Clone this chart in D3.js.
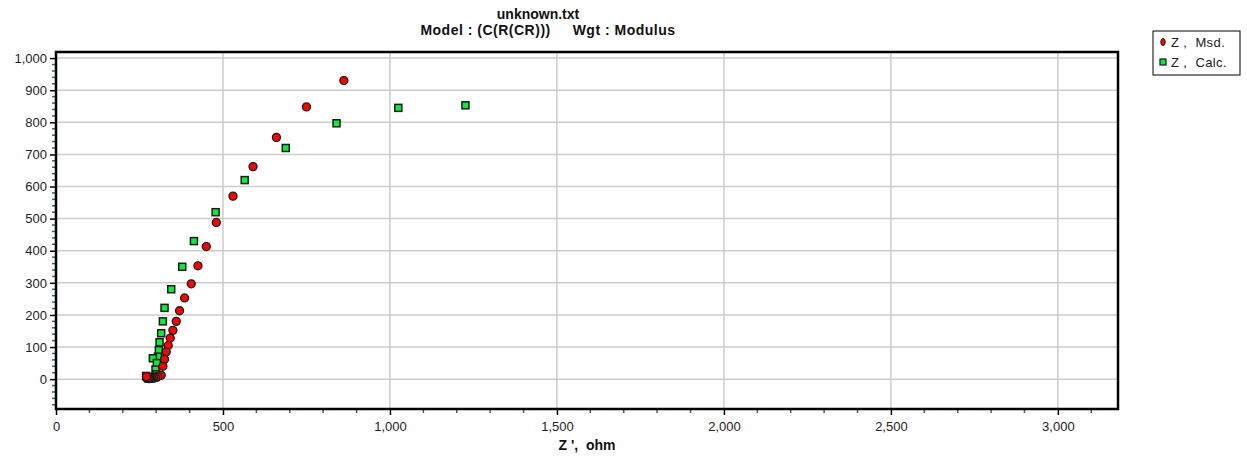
<!DOCTYPE html>
<html>
<head>
<meta charset="utf-8">
<script src="https://cdn.jsdelivr.net/npm/d3@7"></script>
<style>
    body { margin: 0; background: #fff; }
    text { font-family: "Liberation Sans", Arial, sans-serif; }
    .grid line { stroke: #cccccc; stroke-width: 1.5; }
    .tick-label { font-size: 13px; fill: #222; }
    .title { font-size: 14px; font-weight: bold; fill: #111; }
</style>
</head>
<body>
<svg id="nyquist" width="1247" height="462"></svg>
<script>
// Z', Z'' measured (ohm)
const msdX = [862, 750, 660, 590, 530, 480, 450, 425, 405, 385, 370, 360, 350, 342, 336, 330, 325, 320, 315, 305, 298, 292, 287, 283, 280, 278, 276, 273, 271];
const msdY = [930, 848, 753, 662, 570, 488, 413, 353, 297, 253, 213, 180, 152, 128, 105, 85, 62, 40, 12, 8, 5, 4, 3, 3, 2, 2, 3, 5, 8];
// Z', Z'' calculated (ohm)
const calcX = [1226, 1025, 840, 688, 565, 478, 413, 378, 345, 325, 320, 315, 310, 308, 305, 290, 302, 298, 300, 298, 295, 290, 285, 281, 278, 276, 275, 272, 270];
const calcY = [853, 845, 797, 720, 620, 520, 430, 350, 280, 222, 180, 143, 115, 90, 70, 65, 50, 30, 15, 8, 5, 4, 3, 2, 2, 3, 5, 7, 10];

const xTicks = [0, 500, 1000, 1500, 2000, 2500, 3000];
const yTicks = [0, 100, 200, 300, 400, 500, 600, 700, 800, 900, 1000];
const legendLabels = ["Z ,  Msd.", "Z ,  Calc."];
const titleLines = ["unknown.txt", "Model : (C(R(CR)))     Wgt : Modulus"];

const nbsp = (s)=>s.replace(/ /g, "\u00a0");

const drawChart = ()=>{
    let svg = d3.select("#nyquist");

    let margin = {
        top: 52,
        bottom: 53,
        left: 56,
        right: 129
    };

    let width = svg.attr("width") - margin.left - margin.right;
    let height = svg.attr("height") - margin.top - margin.bottom;

    let g = svg.append("g").attr("transform", "translate(" + margin.left + "," + margin.top + ")");

    let xScale = d3.scaleLinear().range([0, width]).domain([0, 3180]);
    let yScale = d3.scaleLinear().range([height, 0]).domain([-93, 1019]);

    // grid
    g.append("g").attr("class", "grid")
    .selectAll("line").data(yTicks).enter().append("line")
    .attr("x1", 0).attr("x2", width)
    .attr("y1", d=>yScale(d)).attr("y2", d=>yScale(d));

    g.append("g").attr("class", "grid")
    .selectAll("line").data(xTicks.slice(1)).enter().append("line")
    .attr("y1", 0).attr("y2", height)
    .attr("x1", d=>xScale(d)).attr("x2", d=>xScale(d));

    // minor ticks
    let xMinor = d3.range(100, 3180, 100).filter(d=>d % 500 != 0);
    let yMinor = d3.range(-80, 1019, 20).filter(d=>d % 100 != 0);

    g.append("g").selectAll("line").data(xMinor).enter().append("line")
    .attr("x1", d=>xScale(d)).attr("x2", d=>xScale(d))
    .attr("y1", height).attr("y2", height + 4)
    .attr("stroke", "#2e6b6b").attr("stroke-width", 1.5);

    g.append("g").selectAll("line").data(yMinor).enter().append("line")
    .attr("y1", d=>yScale(d)).attr("y2", d=>yScale(d))
    .attr("x1", 0).attr("x2", -4)
    .attr("stroke", "#2e6b6b").attr("stroke-width", 1.5);

    // axes
    let xAxis = d3.axisBottom().scale(xScale).tickValues(xTicks).tickSize(6).tickPadding(4).tickFormat(d3.format(","));
    let yAxis = d3.axisLeft().scale(yScale).tickValues(yTicks).tickSize(6).tickPadding(3).tickFormat(d3.format(","));

    let gx = g.append("g").attr("transform", "translate(0," + height + ")").call(xAxis);
    let gy = g.append("g").call(yAxis);

    [gx, gy].forEach(a=>{
        a.select(".domain").remove();
        a.selectAll(".tick line").attr("stroke", "#000").attr("stroke-width", 1.5);
        a.selectAll(".tick text").attr("class", "tick-label").attr("font-size", null).attr("font-family", null);
    });
    gx.selectAll(".tick text").attr("dy", "0.95em");

    // frame
    g.append("rect")
    .attr("x", 0).attr("y", 0)
    .attr("width", width).attr("height", height)
    .attr("fill", "none").attr("stroke", "#000").attr("stroke-width", 2.5);

    // points
    let msd = msdX.map((x, i)=>[x, msdY[i]]);
    let calc = calcX.map((x, i)=>[x, calcY[i]]);

    g.append("g").selectAll("rect").data(calc).enter().append("rect")
    .attr("x", d=>xScale(d[0]) - 3.5)
    .attr("y", d=>yScale(d[1]) - 3.5)
    .attr("width", 7).attr("height", 7)
    .attr("fill", "#00f03c").attr("stroke", "#1a1a1a").attr("stroke-width", 1.5);

    g.append("g").selectAll("circle").data(msd).enter().append("circle")
    .attr("cx", d=>xScale(d[0]))
    .attr("cy", d=>yScale(d[1]))
    .attr("r", 4)
    .attr("fill", "#ff0000").attr("stroke", "#1a1a1a").attr("stroke-width", 1.3);

    // titles
    svg.selectAll(".title").data(titleLines).enter().append("text")
    .attr("class", "title")
    .attr("x", (d, i)=>i == 0 ? 538 : 548)
    .attr("y", (d, i)=>19 + i * 16)
    .attr("text-anchor", "middle")
    .style("letter-spacing", (d, i)=>i == 0 ? "0px" : "0.5px")
    .text(d=>nbsp(d));

    svg.append("text")
    .attr("class", "title")
    .attr("x", margin.left + width / 2)
    .attr("y", 450)
    .attr("text-anchor", "middle")
    .text(nbsp("Z ',  ohm"));

    // legend
    let legend = svg.append("g").attr("transform", "translate(1153,31)");
    legend.append("rect")
    .attr("width", 87).attr("height", 44)
    .attr("fill", "#fff").attr("stroke", "#000").attr("stroke-width", 1);

    legend.append("ellipse")
    .attr("cx", 10).attr("cy", 11).attr("rx", 2.2).attr("ry", 3.5)
    .attr("fill", "#ff0000").attr("stroke", "#1a1a1a").attr("stroke-width", 1);
    legend.append("rect")
    .attr("x", 7).attr("y", 28).attr("width", 6).attr("height", 6)
    .attr("fill", "#00f03c").attr("stroke", "#1a1a1a").attr("stroke-width", 1.2);

    legend.selectAll(".leg").data(legendLabels).enter().append("text")
    .attr("class", "tick-label")
    .attr("x", 18)
    .attr("y", (d, i)=>16 + i * 20)
    .style("letter-spacing", "0.4px")
    .text(d=>nbsp(d));
}

window.onload = function(){
    drawChart();
}
</script>
</body>
</html>
